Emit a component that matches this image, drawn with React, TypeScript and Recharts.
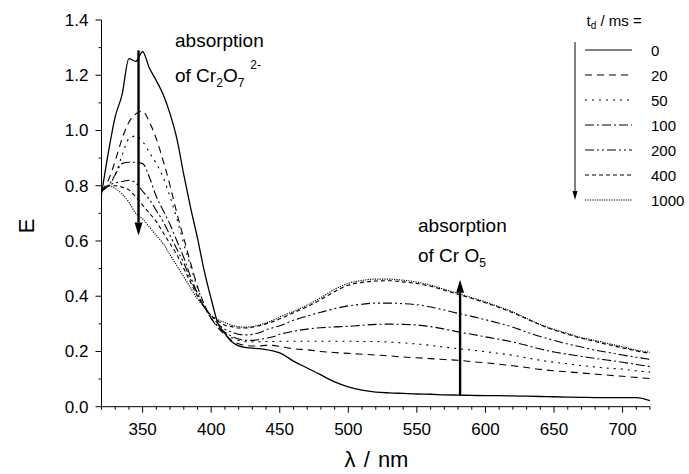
import { Legend, Line, LineChart, ReferenceLine, XAxis, YAxis } from "recharts";

// wavelength grid (nm): 5 nm steps up to 450, then 10 nm steps
const WAVELENGTHS = [
  320, 325, 330, 335, 340, 345, 350, 355, 360, 365, 370, 375, 380, 385, 390, 395, 400, 405, 410, 415, 420, 425, 430, 435, 440, 445, 450,
  460, 470, 480, 490, 500, 510, 520, 530, 540, 550, 560, 570, 580, 590, 600, 610, 620, 630, 640, 650, 660, 670, 680, 690, 700, 710, 720,
];

const T0 = [
  0.77, 0.92, 1.05, 1.13, 1.26, 1.25, 1.285, 1.225, 1.18, 1.13, 1.06, 0.97, 0.84, 0.72, 0.61, 0.49, 0.39, 0.3, 0.265, 0.235, 0.22, 0.215, 0.212, 0.21, 0.207, 0.202, 0.195,
  0.165, 0.14, 0.115, 0.09, 0.072, 0.06, 0.053, 0.05, 0.048, 0.046, 0.045, 0.043, 0.042, 0.041, 0.04, 0.04, 0.039, 0.038, 0.037, 0.036, 0.035, 0.034, 0.033, 0.033, 0.033, 0.033, 0.022,
];
const T20 = [
  0.78, 0.82, 0.89, 0.97, 1.03, 1.06, 1.07, 1.03, 0.97, 0.89, 0.8, 0.7, 0.61, 0.52, 0.435, 0.37, 0.32, 0.285, 0.26, 0.24, 0.228, 0.222, 0.22, 0.22, 0.222, 0.222, 0.218,
  0.21, 0.206, 0.2, 0.196, 0.193, 0.19, 0.187, 0.184, 0.18, 0.177, 0.174, 0.171, 0.168, 0.163, 0.159, 0.154, 0.148, 0.142, 0.135, 0.13, 0.126, 0.122, 0.118, 0.114, 0.11, 0.106, 0.102,
];
const T50 = [
  0.79, 0.8, 0.84, 0.91, 0.97, 0.98, 0.96, 0.92, 0.88, 0.83, 0.76, 0.68, 0.59, 0.51, 0.43, 0.37, 0.32, 0.29, 0.265, 0.25, 0.24, 0.235, 0.235, 0.235, 0.236, 0.236, 0.237,
  0.237, 0.237, 0.237, 0.237, 0.237, 0.236, 0.236, 0.234, 0.231, 0.227, 0.222, 0.216, 0.21, 0.205, 0.199, 0.193, 0.186, 0.177, 0.168, 0.161, 0.155, 0.149, 0.144, 0.139, 0.136, 0.13, 0.125,
];
const T100 = [
  0.78, 0.8, 0.84, 0.88, 0.885, 0.885, 0.88, 0.83, 0.76, 0.71, 0.66, 0.6, 0.54, 0.47, 0.41, 0.36, 0.32, 0.29, 0.27, 0.255, 0.245, 0.24, 0.24, 0.243, 0.248, 0.253, 0.262,
  0.273, 0.281, 0.286, 0.289, 0.291, 0.295, 0.298, 0.299, 0.298, 0.296, 0.29, 0.281, 0.271, 0.262, 0.253, 0.244, 0.234, 0.222, 0.209, 0.198, 0.19, 0.182, 0.175, 0.168, 0.161, 0.153, 0.145,
];
const T200 = [
  0.78, 0.8, 0.81, 0.815, 0.82, 0.81, 0.78, 0.75, 0.71, 0.67, 0.62, 0.57, 0.52, 0.46, 0.41, 0.36, 0.33, 0.3, 0.28, 0.27, 0.262, 0.26, 0.262, 0.268, 0.278, 0.286, 0.293,
  0.313, 0.328, 0.342, 0.355, 0.365, 0.371, 0.375, 0.375, 0.373, 0.369, 0.361, 0.35, 0.338, 0.327, 0.315, 0.302, 0.288, 0.27, 0.254, 0.24, 0.227, 0.216, 0.205, 0.196, 0.187, 0.179, 0.171,
];
const T400 = [
  0.78, 0.8, 0.8, 0.795, 0.785, 0.76, 0.73, 0.7, 0.67, 0.63, 0.59, 0.55, 0.5, 0.45, 0.4, 0.36, 0.33, 0.31, 0.295, 0.29, 0.285, 0.285, 0.288, 0.293, 0.3, 0.308, 0.318,
  0.34, 0.362, 0.388, 0.417, 0.44, 0.45, 0.455, 0.456, 0.452, 0.446, 0.436, 0.422, 0.407, 0.392, 0.376, 0.359, 0.34, 0.318, 0.296, 0.278, 0.262, 0.248, 0.236, 0.224, 0.213, 0.202, 0.193,
];
const T1000 = [
  0.78, 0.8, 0.79, 0.77, 0.74, 0.7, 0.68, 0.65, 0.62, 0.59, 0.55, 0.51, 0.47, 0.43, 0.39, 0.36, 0.33, 0.315, 0.305, 0.295, 0.29, 0.288, 0.29, 0.296, 0.303, 0.313, 0.325,
  0.345, 0.368, 0.395, 0.425, 0.447, 0.457, 0.462, 0.462, 0.458, 0.451, 0.44, 0.425, 0.41, 0.395, 0.379, 0.362, 0.343, 0.32, 0.298, 0.28, 0.265, 0.25, 0.24, 0.228, 0.217, 0.205, 0.197,
];

const SERIES_NAMES = ["0", "20", "50", "100", "200", "400", "1000"];
const SERIES_VALUES = [T0, T20, T50, T100, T200, T400, T1000];

const X_TICKS = [
  320, 330, 340, 350, 360, 370, 380, 390, 400, 410, 420, 430, 440, 450, 460, 470, 480, 490, 500, 510, 520,
  530, 540, 550, 560, 570, 580, 590, 600, 610, 620, 630, 640, 650, 660, 670, 680, 690, 700, 710, 720,
];
const Y_TICKS = [0, 0.1, 0.2, 0.3, 0.4, 0.5, 0.6, 0.7, 0.8, 0.9, 1.0, 1.1, 1.2, 1.3, 1.4];

const FONT = "'Liberation Sans', Arial, Helvetica, sans-serif";
const DASHES = [undefined, "7 5", "2 5", "9 3 2 3", "9 3 2 3 2 3", "4 3", "1.2 1.2"];

const data = WAVELENGTHS.map((wl, i) => {
  const row: Record<string, number> = { wl };
  SERIES_VALUES.forEach((vals, k) => {
    row["s" + k] = vals[i];
  });
  return row;
});

const XTick = (props: any) => {
  const { x, y, payload } = props;
  const v = payload.value;
  const major = v % 50 === 0;
  return (
    <g>
      <line x1={x} x2={x} y1={y} y2={y + (major ? 6 : 3)} stroke="#000" />
      {major && (
        <text x={x} y={y + 28} textAnchor="middle" fontSize={17} fontFamily={FONT} fill="#000">
          {v}
        </text>
      )}
    </g>
  );
};

const YTick = (props: any) => {
  const { x, y, payload } = props;
  const v = payload.value;
  const major = Math.round(v * 10) % 2 === 0;
  return (
    <g>
      <line x1={x - (major ? 6 : 3)} x2={x} y1={y} y2={y} stroke="#000" />
      {major && (
        <text x={x - 13} y={y + 6} textAnchor="end" fontSize={17} fontFamily={FONT} fill="#000">
          {v.toFixed(1)}
        </text>
      )}
    </g>
  );
};

const arrowShape = (width: number, head: number, half: number) => (props: any) => {
  const { x1, y1, x2, y2 } = props;
  const dir = y2 > y1 ? 1 : -1;
  const baseY = y2 - dir * head;
  return (
    <g>
      <line x1={x1} y1={y1} x2={x2} y2={baseY} stroke="#000" strokeWidth={width} />
      <polygon points={`${x2},${y2} ${x2 - half},${baseY} ${x2 + half},${baseY}`} fill="#000" />
    </g>
  );
};

const renderLegend = (props: any) => {
  const payload = [...(props.payload || [])].sort(
    (a: any, b: any) => Number(a.value) - Number(b.value)
  );
  return (
    <svg width={125} height={200} style={{ overflow: "visible", fontFamily: FONT, display: "block" }}>
      <text x={22.5} y={26} fontSize={15} fill="#000">
        t<tspan fontSize={10} dy={3}>d</tspan>
        <tspan dy={-3}> / ms =</tspan>
      </text>
      <line x1={11} x2={11} y1={42} y2={192} stroke="#000" strokeWidth={1} />
      <polygon points="11,200 8.5,191 13.5,191" fill="#000" />
      {payload.map((entry: any, i: number) => (
        <g key={entry.value}>
          <line
            x1={21}
            x2={68}
            y1={50 + 25 * i}
            y2={50 + 25 * i}
            stroke="#000"
            strokeWidth={1}
            strokeDasharray={DASHES[SERIES_NAMES.indexOf(String(entry.value))]}
          />
          <text x={87} y={55.5 + 25 * i} fontSize={15} fill="#000">
            {entry.value}
          </text>
        </g>
      ))}
    </svg>
  );
};

export default function App() {
  return (
    <div style={{ position: "absolute", left: 0, top: 0, width: 689, height: 474, fontFamily: FONT }}>
      <LineChart
        width={689}
        height={474}
        data={data}
        margin={{ top: 20, right: 39, bottom: 7.3, left: 41.5 }}
      >
        <XAxis
          dataKey="wl"
          type="number"
          domain={[320, 720]}
          ticks={X_TICKS}
          interval={0}
          tickSize={0}
          tickMargin={0}
          tickLine={false}
          tick={(p: any) => <XTick {...p} />}
          axisLine={{ stroke: "#000", strokeWidth: 1 }}
          height={60}
          allowDataOverflow
        />
        <YAxis
          type="number"
          domain={[0, 1.4]}
          ticks={Y_TICKS}
          interval={0}
          tickSize={0}
          tickMargin={0}
          tickLine={false}
          tick={(p: any) => <YTick {...p} />}
          axisLine={{ stroke: "#000", strokeWidth: 1 }}
          width={60}
          allowDataOverflow
        />
        <Legend
          layout="horizontal"
          verticalAlign="middle"
          align="center"
          content={renderLegend}
          wrapperStyle={{ position: "absolute", left: 564, top: 0, width: 125, height: 210 }}
        />
        {SERIES_NAMES.map((name, k) => (
          <Line
            key={name}
            dataKey={"s" + k}
            name={name}
            type="monotone"
            stroke="#000"
            strokeWidth={k === 0 ? 1.3 : 1.1}
            strokeDasharray={DASHES[k]}
            dot={false}
            activeDot={false}
            isAnimationActive={false}
          />
        ))}
        <ReferenceLine
          segment={[{ x: 347, y: 1.29 }, { x: 347, y: 0.62 }]}
          shape={arrowShape(2.4, 13, 4)}
        />
        <ReferenceLine
          segment={[{ x: 581.5, y: 0.04 }, { x: 581.5, y: 0.46 }]}
          shape={arrowShape(2.4, 13, 4)}
        />
        <text x={175} y={47} fontSize={19} fontFamily={FONT} fill="#000">
          absorption
        </text>
        <text x={175} y={81.5} fontSize={19} fontFamily={FONT} fill="#000">
          of Cr<tspan fontSize={12} dy={5}>2</tspan>
          <tspan dy={-5}>O</tspan>
          <tspan fontSize={12} dy={5}>7</tspan>
          <tspan fontSize={12} dx={6} dy={-18}>2-</tspan>
        </text>
        <text x={418} y={232} fontSize={19} fontFamily={FONT} fill="#000">
          absorption
        </text>
        <text x={418} y={261.5} fontSize={19} fontFamily={FONT} fill="#000">
          of Cr O<tspan fontSize={12} dy={5}>5</tspan>
        </text>
        <text x={376.5} y={467} textAnchor="middle" fontSize={22} wordSpacing={2} fontFamily={FONT} fill="#000">
          λ / nm
        </text>
        <text
          x={26}
          y={226}
          textAnchor="middle"
          dominantBaseline="central"
          fontSize={22}
          fontFamily={FONT}
          fill="#000"
          transform="rotate(-90 26 226)"
        >
          E
        </text>
      </LineChart>
    </div>
  );
}
